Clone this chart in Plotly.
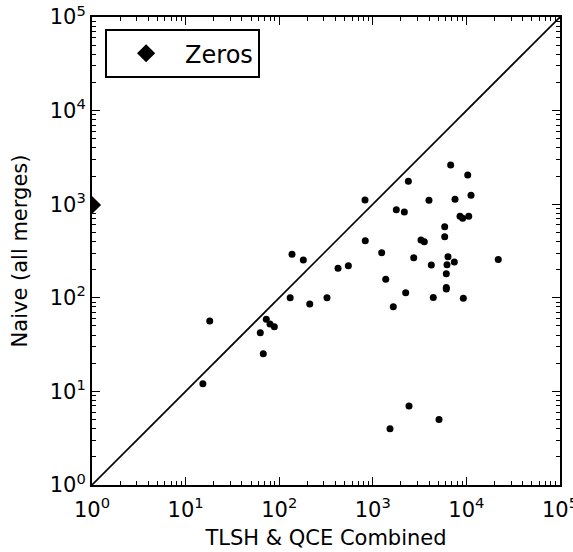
import plotly.graph_objects as go

# Scatter data: TLSH & QCE combined (x) vs Naive all merges (y)
x_vals = [15.3, 18.1, 62.8, 72.8, 79.7, 88.7, 67.6, 137, 181, 131, 212, 324,
          425, 548, 826, 831, 1244, 1374, 1656, 1783, 2172, 2245, 2399, 2737,
          3273, 3549, 3982, 4218, 4429, 5862, 5862, 6100, 6100, 6100, 6205, 6360,
          6790, 7430, 7556, 8550, 9126, 9270, 10330, 10590, 11200, 21900,
          1527, 2437, 5096]
y_vals = [12.1, 56.5, 42.4, 58.9, 52.5, 49.0, 25.3, 292, 254, 100, 86, 100,
          207, 220, 1109, 407, 303, 158, 80, 873, 826, 113, 1757, 268,
          414, 397, 1101, 224, 101, 575, 450, 181, 129, 124, 226, 275,
          2624, 241, 1127, 743, 709, 99, 2050, 743, 1245, 257,
          4.0, 7.0, 5.0]

# Cases where the combined method found zero (plotted at x = 1)
zero_x = [1]
zero_y = [980]

diag = [1, 1e5]
decades = [0, 1, 2, 3, 4, 5]
tick_vals = [10 ** d for d in decades]
tick_text = ["10<sup>%d</sup>" % d for d in decades]
minor_vals = [m * 10 ** d for d in decades[:-1] for m in range(2, 10)]

fig = go.Figure()
fig.add_trace(go.Scatter(x=diag, y=diag, mode="lines",
                         line=dict(color="black", width=1.6),
                         showlegend=False, hoverinfo="skip"))
fig.add_trace(go.Scatter(x=x_vals, y=y_vals, mode="markers",
                         marker=dict(color="black", size=7),
                         showlegend=False))
fig.add_trace(go.Scatter(x=zero_x, y=zero_y, mode="markers", name="Zeros",
                         marker=dict(color="black", size=14, symbol="diamond")))

axis_common = dict(
    type="log", range=[0, 5], showgrid=False, zeroline=False, automargin=False,
    showline=True, linecolor="black", linewidth=2, mirror="ticks",
    ticks="inside", ticklen=8, tickwidth=1.3, tickcolor="black",
    tickmode="array", tickvals=tick_vals, ticktext=tick_text,
    ticklabeloverflow="allow",
    tickfont=dict(family="DejaVu Sans", size=21, color="black"),
    minor=dict(ticks="inside", ticklen=4, tickwidth=1, tickcolor="black",
               tickmode="array", tickvals=minor_vals, showgrid=False),
)

fig.update_xaxes(**axis_common, ticklabelstandoff=5,
                 title=dict(text="TLSH & QCE Combined", standoff=9,
                            font=dict(family="DejaVu Sans", size=21, color="black")))
fig.update_yaxes(**axis_common,
                 title=dict(text="Naive (all merges)", standoff=16,
                            font=dict(family="DejaVu Sans", size=21, color="black")))

fig.update_layout(
    width=573, height=552,
    margin=dict(l=92, r=13, t=17, b=67),
    plot_bgcolor="white", paper_bgcolor="white",
    font=dict(family="DejaVu Sans", color="black"),
    legend=dict(x=0.028, y=0.974, xanchor="left", yanchor="top",
                bordercolor="black", borderwidth=2, bgcolor="white",
                font=dict(family="DejaVu Sans", size=24, color="black"),
                itemwidth=68),
)

fig.write_html("out.html")
